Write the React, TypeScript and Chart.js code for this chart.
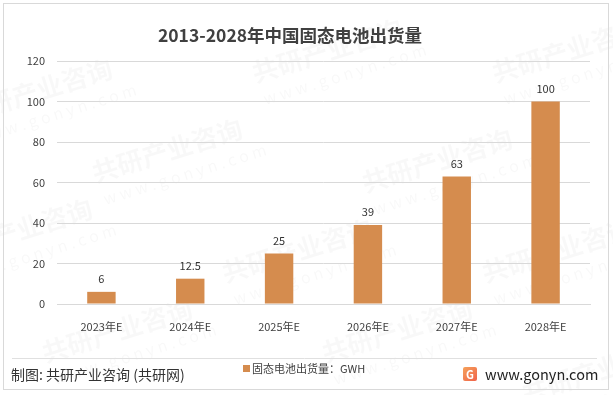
import React, { useEffect, useRef } from "react";
import { Chart, registerables } from "chart.js";

Chart.register(...registerables);

const categories = ["2023年E", "2024年E", "2025年E", "2026年E", "2027年E", "2028年E"];
const values = [6, 12.5, 25, 39, 63, 100];
const seriesName = "固态电池出货量：GWH";
const titleText = "2013-2028年中国固态电池出货量";
const sourceText = "制图: 共研产业咨询 (共研网)";
const siteText = "www.gonyn.com";
const yTicks = [0, 20, 40, 60, 80, 100, 120];

const FONT = "'Noto Sans CJK SC', 'Noto Sans', sans-serif";
const BAR = "#D58C4E";
const TXT = "#404040";

const decorPlugin = {
  id: "decor",
  beforeDraw(chart: any) {
    const ctx = chart.ctx;
    ctx.save();
    ctx.fillStyle = "#ffffff";
    ctx.fillRect(0, 0, chart.width, chart.height);
    // watermarks
    ctx.fillStyle = "rgba(0,0,0,0.028)";
    const marks = [
      [40, 100], [330, 60], [570, 60], [170, 160], [440, 170], [20, 240],
      [300, 260], [560, 260], [120, 340], [400, 340], [600, 380],
    ];
    for (const [x, y] of marks) {
      ctx.save();
      ctx.translate(x, y);
      ctx.rotate(-0.3);
      ctx.font = `bold 26px ${FONT}`;
      ctx.textAlign = "center";
      ctx.fillText("共研产业咨询", 0, 0);
      ctx.font = `16px ${FONT}`;
      ctx.fillText("w w w . g o n y n . c o m", 10, 24);
      ctx.restore();
    }
    // border
    ctx.strokeStyle = "#d9d9d9";
    ctx.lineWidth = 1;
    ctx.strokeRect(3.5, 3.5, 605, 386);
    // separator
    ctx.strokeStyle = "#e0e0e0";
    ctx.beginPath();
    ctx.moveTo(12, 358.5);
    ctx.lineTo(597, 358.5);
    ctx.stroke();
    ctx.restore();
  },
  afterDraw(chart: any) {
    const ctx = chart.ctx;
    ctx.save();
    // title
    ctx.fillStyle = TXT;
    ctx.font = `bold 17.5px ${FONT}`;
    ctx.textAlign = "center";
    ctx.textBaseline = "middle";
    ctx.fillText(titleText, 290, 35);
    // data labels
    const meta = chart.getDatasetMeta(0);
    ctx.font = `11px ${FONT}`;
    ctx.fillStyle = "#333333";
    ctx.textBaseline = "middle";
    meta.data.forEach((el: any, i: number) => {
      ctx.fillText(String(values[i]), el.x, el.y - 13);
    });
    // legend
    ctx.fillStyle = BAR;
    ctx.fillRect(243, 365, 7, 7);
    ctx.fillStyle = TXT;
    ctx.textAlign = "left";
    ctx.font = `11px ${FONT}`;
    ctx.fillText(seriesName, 252, 369);
    // source
    ctx.fillStyle = "#333333";
    ctx.font = `14px ${FONT}`;
    ctx.fillText(sourceText, 11, 375);
    // logo
    const g = ctx.createLinearGradient(463, 367, 477, 382);
    g.addColorStop(0, "#f5a25a");
    g.addColorStop(1, "#f0604a");
    ctx.fillStyle = g;
    ctx.beginPath();
    ctx.roundRect(463, 367, 14, 14, 2);
    ctx.fill();
    ctx.fillStyle = "#ffffff";
    ctx.font = `bold 11px ${FONT}`;
    ctx.textAlign = "center";
    ctx.fillText("G", 470, 374.5);
    ctx.fillStyle = "#222222";
    ctx.textAlign = "left";
    ctx.font = `14.5px ${FONT}`;
    ctx.fillText(siteText, 485, 374);
    ctx.restore();
  },
};

export default function App() {
  const ref = useRef<HTMLCanvasElement>(null);
  useEffect(() => {
    document.body.style.margin = "0";
    const chart = new Chart(ref.current!, {
      type: "bar",
      data: {
        labels: categories,
        datasets: [
          {
            label: seriesName,
            data: values,
            backgroundColor: BAR,
            barPercentage: 0.32,
            categoryPercentage: 1,
          },
        ],
      },
      options: {
        animation: false,
        responsive: false,
        devicePixelRatio: 1,
        layout: { padding: { top: 61, left: 0, right: 23, bottom: 61 } },
        plugins: { legend: { display: false }, title: { display: false }, tooltip: { enabled: false } },
        scales: {
          x: {
            grid: { display: false },
            border: { color: "#d9d9d9" },
            ticks: { color: TXT, font: { family: FONT, size: 11 }, padding: 8, maxRotation: 0 },
            afterFit: (s: any) => { s.height = 30; },
          },
          y: {
            min: 0,
            max: 120,
            afterBuildTicks: (s: any) => { s.ticks = yTicks.map((v) => ({ value: v })); },
            grid: { color: "#d9d9d9", drawTicks: false },
            border: { display: false },
            ticks: { color: TXT, font: { family: FONT, size: 11 }, padding: 12 },
            afterFit: (s: any) => { s.width = 57; },
          },
        },
      },
      plugins: [decorPlugin],
    });
    return () => chart.destroy();
  }, []);
  return (
    <div style={{ position: "absolute", left: 0, top: 0 }}>
      <canvas ref={ref} width={613} height={395} style={{ display: "block", width: 613, height: 395 }} />
    </div>
  );
}
